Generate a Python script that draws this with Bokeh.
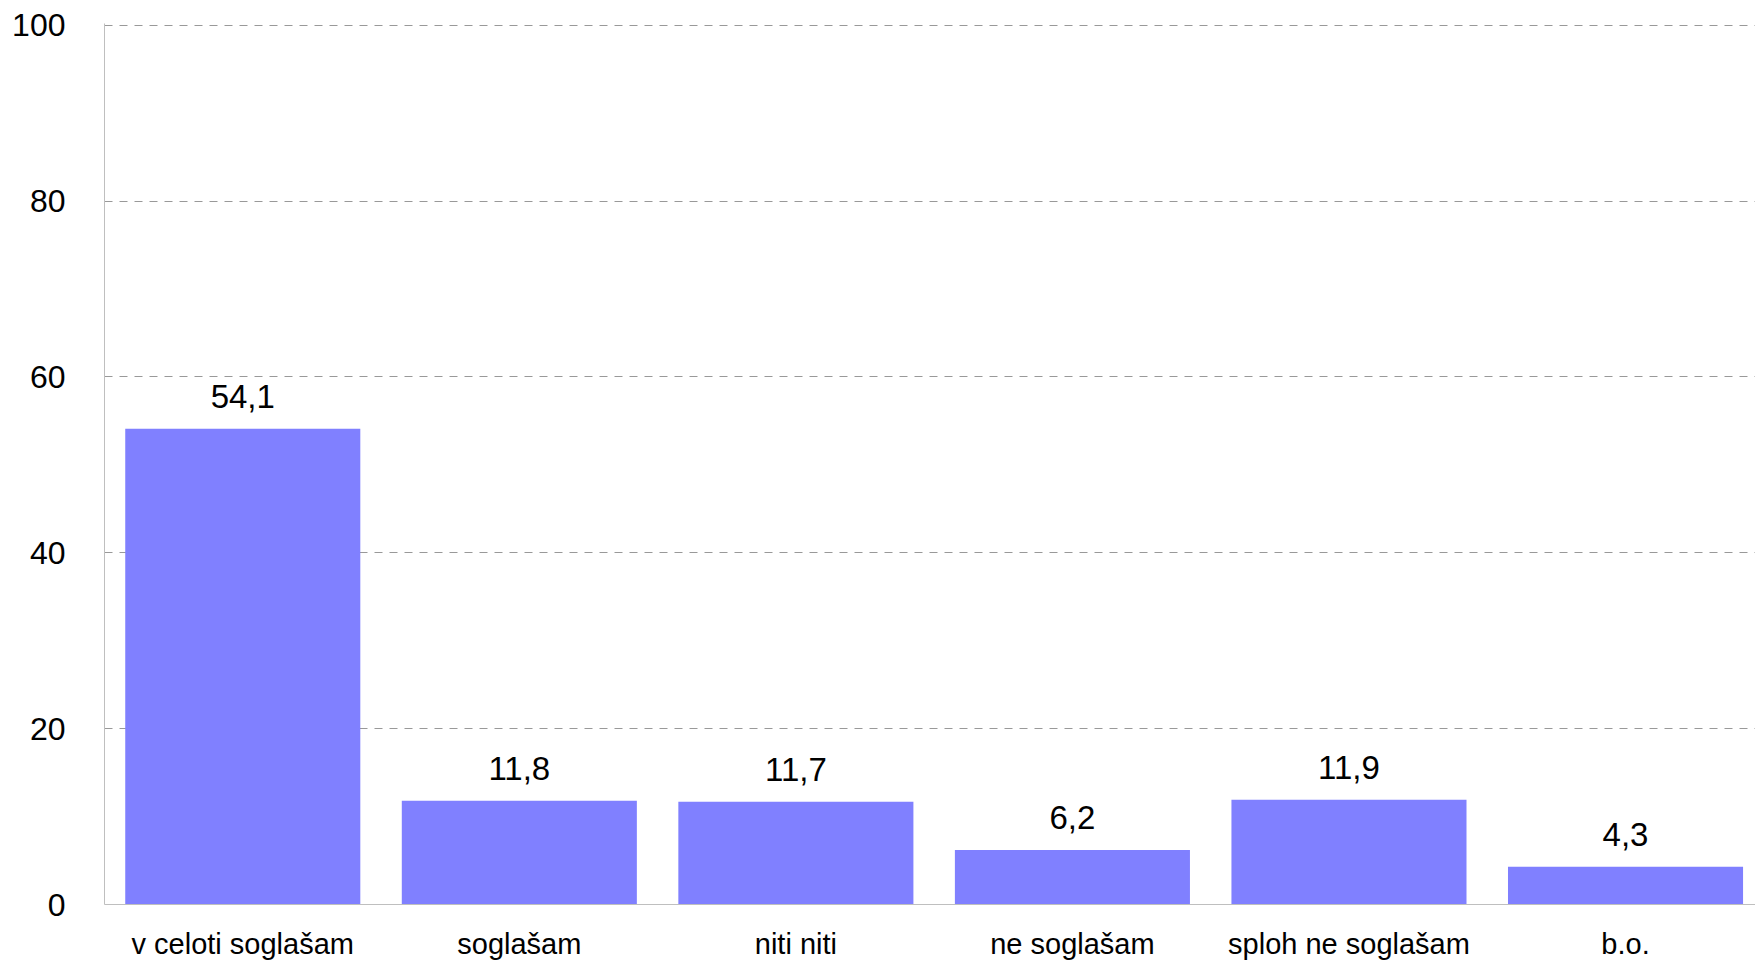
from bokeh.plotting import figure
from bokeh.models import ColumnDataSource, Range1d, FixedTicker
from bokeh.embed import file_html
from bokeh.resources import INLINE
from bokeh.core.properties import value

categories = ["v celoti soglašam", "soglašam", "niti niti", "ne soglašam", "sploh ne soglašam", "b.o."]
values = [54.1, 11.8, 11.7, 6.2, 11.9, 4.3]
labels = ["54,1", "11,8", "11,7", "6,2", "11,9", "4,3"]
y_ticks = [0, 20, 40, 60, 80, 100]

FONT = "Liberation Sans"

xpos = [i + 0.5 for i in range(len(categories))]
src = ColumnDataSource(dict(x=xpos, cat=categories, val=values, lab=labels))

p = figure(x_range=Range1d(0, 5.97), y_range=Range1d(0, 100.2),
           width=1755, height=962, output_backend="svg", toolbar_location=None,
           min_border_left=104, min_border_top=23, min_border_right=0, min_border_bottom=10)
p.outline_line_color = None
p.background_fill_color = "white"

p.vbar(x="x", top="val", width=0.85, source=src, fill_color="#8080FF", line_color=None)

p.text(x="x", y="val", text="lab", source=src, text_align="center", text_baseline="alphabetic",
       y_offset=-32, text_font=value(FONT), text_font_size="33px", text_color="#000000")

p.yaxis.ticker = y_ticks
p.yaxis.major_tick_line_color = None
p.yaxis.minor_tick_line_color = None
p.yaxis.major_tick_out = 0
p.yaxis.major_label_standoff = 39
p.yaxis.major_label_text_font = FONT
p.yaxis.major_label_text_font_size = "32px"
p.yaxis.major_label_text_color = "#000000"
p.yaxis.axis_line_color = "#BFBFBF"
p.yaxis.axis_line_width = 1

p.xaxis.ticker = FixedTicker(ticks=xpos, minor_ticks=[])
p.xaxis.major_label_overrides = {x: c for x, c in zip(xpos, categories)}
p.xaxis.major_tick_line_color = None
p.xaxis.minor_tick_line_color = None
p.xaxis.major_tick_out = 0
p.xaxis.minor_tick_out = 0
p.xaxis.major_label_standoff = 23
p.xaxis.major_label_text_font = FONT
p.xaxis.major_label_text_font_size = "29px"
p.xaxis.major_label_text_color = "#000000"
p.xaxis.axis_line_color = "#BFBFBF"

p.xgrid.grid_line_color = None
p.ygrid.grid_line_color = "#999999"
p.ygrid.grid_line_dash = "8 7"
p.ygrid.grid_line_width = 1

open("out.html", "w").write(file_html(p, INLINE))
